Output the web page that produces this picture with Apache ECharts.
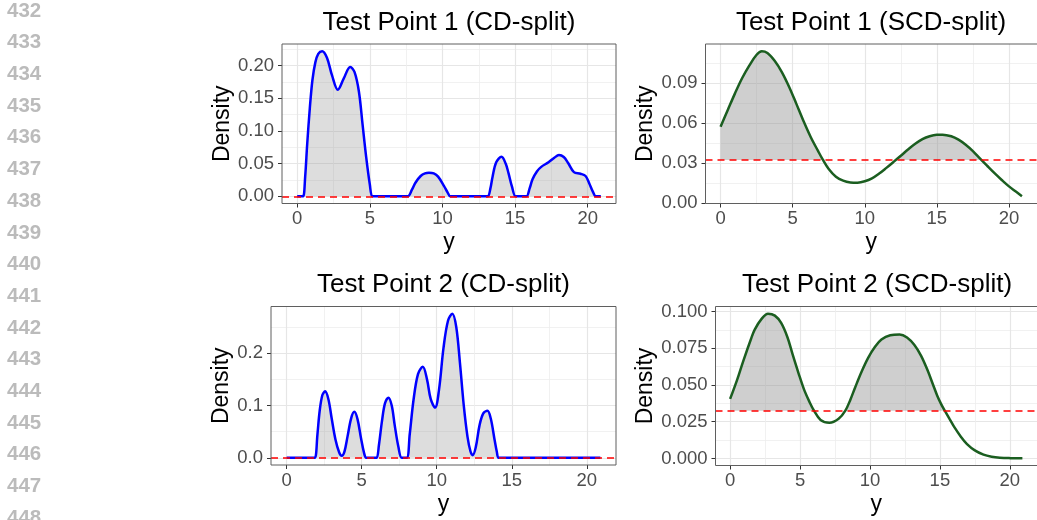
<!DOCTYPE html>
<html>
<head>
<meta charset="utf-8">
<script src="https://cdn.jsdelivr.net/npm/echarts@6/dist/echarts.min.js"></script>
<style>
html, body { margin: 0; padding: 0; background: #fff; }
#main { width: 1037px; height: 520px; }
</style>
</head>
<body>
<div id="main"></div>
<script>
var FONT = '"Liberation Sans", Arial, Helvetica, sans-serif';

// 左侧行号
var lineNumbers = [432, 433, 434, 435, 436, 437, 438, 439, 440, 441, 442, 443, 444, 445, 446, 447, 448];

var titles = ['Test Point 1 (CD-split)', 'Test Point 1 (SCD-split)', 'Test Point 2 (CD-split)', 'Test Point 2 (SCD-split)'];
var xTicks = [0, 5, 10, 15, 20];
var yTicks = [
    [0, 0.05, 0.10, 0.15, 0.20],
    [0, 0.03, 0.06, 0.09],
    [0, 0.1, 0.2],
    [0, 0.025, 0.05, 0.075, 0.1]
];
var yDigits = [2, 2, 1, 3];
var thresholds = [0, 0.0325, 0, 0.0325];

// Test Point 1, CD-split
var cd1X = [0, 0.25, 0.41, 0.55, 0.69, 0.87, 1.05, 1.25, 1.45, 1.72, 2.05, 2.4, 2.8, 3.2, 3.65, 3.95, 4.25, 4.5, 4.75, 5.0, 5.16, 5.3,
    7.45, 7.62, 7.9, 8.15, 8.5, 8.8, 9.07, 9.4, 9.7, 10.1, 10.35, 10.53, 10.7,
    12.95, 13.13, 13.3, 13.45, 13.7, 14.07, 14.35, 14.55, 14.78, 15.03, 15.2,
    15.6, 15.79, 16.0, 16.2, 16.5, 16.8, 17.3, 17.7, 18.02, 18.35, 18.65, 19.05, 19.5, 19.85, 20.1, 20.35, 20.55, 20.7, 20.9];
var cd1Y = [0, 0, 0, 0.03, 0.08, 0.135, 0.178, 0.205, 0.218, 0.222, 0.212, 0.185, 0.163, 0.18, 0.198, 0.19, 0.16, 0.11, 0.06, 0.018, 0, 0,
    0, 0, 0.01, 0.021, 0.031, 0.035, 0.036, 0.035, 0.03, 0.016, 0.006, 0, 0,
    0, 0, 0.012, 0.03, 0.052, 0.0606, 0.05, 0.035, 0.015, 0, 0,
    0, 0, 0.012, 0.026, 0.038, 0.045, 0.052, 0.059, 0.063, 0.06, 0.051, 0.037, 0.0345, 0.031, 0.02, 0.007, 0, 0, 0];

// Test Point 1, SCD-split
var scd1X = [0, 0.5, 1.0, 1.5, 2.0, 2.5, 2.86, 3.25, 3.75, 4.25, 4.75, 5.25, 5.75, 6.25, 6.75, 7.08, 7.5, 8.0, 8.5, 9.0, 9.5, 10.0,
    10.5, 11.0, 11.5, 12.0, 12.5, 13.0, 13.5, 14.0, 14.5, 15.0, 15.4, 16.0, 16.5, 17.0, 17.5, 18.0, 18.5, 19.0, 19.5, 20.0, 20.5, 20.9];
var scd1Y = [0.0574, 0.070, 0.0825, 0.094, 0.1035, 0.1115, 0.1141, 0.1128, 0.107, 0.0985, 0.0875, 0.0748, 0.0618, 0.0498, 0.0395, 0.033, 0.0258, 0.020, 0.017, 0.0157, 0.0155, 0.0165,
    0.0187, 0.0223, 0.0266, 0.0311, 0.0357, 0.0404, 0.0447, 0.0481, 0.0503, 0.0514, 0.0515, 0.0503, 0.0478, 0.044, 0.0392, 0.0335, 0.028, 0.0226, 0.0175, 0.0127, 0.0086, 0.0053];

// Test Point 2, CD-split
var cd2X = [0, 1.75, 1.89, 2.05, 2.2, 2.38, 2.56, 2.78, 3.0, 3.25, 3.5, 3.67, 3.85, 4.05, 4.3, 4.51, 4.72, 4.95, 5.15, 5.29, 5.42,
    5.87, 6.0, 6.15, 6.35, 6.55, 6.78, 7.0, 7.2, 7.45, 7.67, 8.0, 8.2, 8.45, 8.75, 9.07, 9.35, 9.6, 9.89, 10.15, 10.45, 10.75, 11.04,
    11.3, 11.55, 11.8, 12.05, 12.25, 12.4, 12.6, 12.85, 13.1, 13.38, 13.6, 13.85, 14.0, 14.11, 14.25, 20.9];
var cd2Y = [0, 0, 0, 0.045, 0.09, 0.12, 0.127, 0.112, 0.075, 0.035, 0.01, 0.004, 0.012, 0.04, 0.076, 0.088, 0.074, 0.038, 0.01, 0, 0,
    0, 0, 0.025, 0.07, 0.104, 0.115, 0.1, 0.062, 0.02, 0, 0, 0.045, 0.11, 0.16, 0.174, 0.15, 0.112, 0.096, 0.13, 0.21, 0.262, 0.2755,
    0.25, 0.18, 0.1, 0.04, 0.012, 0.005, 0.02, 0.062, 0.085, 0.09, 0.075, 0.035, 0.012, 0, 0, 0];

// Test Point 2, SCD-split
var scd2X = [0, 0.5, 0.94, 1.5, 1.76, 2.25, 2.71, 3.2, 3.65, 4.1, 4.47, 4.9, 5.29, 5.65, 6.0, 6.47, 7.1, 7.76, 8.24, 8.6, 8.94, 9.4,
    9.88, 10.35, 10.82, 11.45, 12.12, 12.65, 13.18, 13.65, 14.12, 14.5, 14.82, 15.1, 15.35, 15.7, 16.0, 16.5, 16.94, 17.5, 18.12, 18.7, 19.29, 20.0, 20.9];
var scd2Y = [0.0405, 0.0535, 0.0663, 0.0815, 0.0877, 0.095, 0.0985, 0.0972, 0.0922, 0.0825, 0.0708, 0.0578, 0.0468, 0.039, 0.0325, 0.0262, 0.0243, 0.027, 0.0325, 0.040, 0.0483, 0.059,
    0.0686, 0.0758, 0.0809, 0.0838, 0.0843, 0.0823, 0.0772, 0.070, 0.060, 0.0505, 0.0425, 0.0368, 0.0325, 0.0267, 0.0218, 0.0148, 0.0098, 0.0055, 0.0026, 0.0012, 0.0005, 0.0002, 0.0001];

var seriesX = [cd1X, scd1X, cd2X, scd2X];
var seriesY = [cd1Y, scd1Y, cd2Y, scd2Y];

// 版面 (像素)
var layout = [
    { left: 282, top: 44, width: 334, height: 159.5, titleX: 449, titleTop: 10, nameGap: 48 },
    { left: 705.5, top: 44, width: 333, height: 159.5, titleX: 871, titleTop: 10, nameGap: 48 },
    { left: 271, top: 306.5, width: 345, height: 158.5, titleX: 443.5, titleTop: 271.5, nameGap: 36 },
    { left: 715.5, top: 306.5, width: 326, height: 159, titleX: 877, titleTop: 271.5, nameGap: 58 }
];

var chart = echarts.init(document.getElementById('main'));

function zip(xs, ys) {
    return xs.map(function (x, i) { return [x, ys[i]]; });
}
function onTick(list, v) {
    return list.some(function (t) { return Math.abs(t - v) < 1e-9; });
}
// ggplot 默认 5% 扩展
function expand(lo, hi) {
    var d = (hi - lo) * 0.05;
    return [lo - d, hi + d];
}

var FILL = 'rgba(150,150,150,0.46)';
var gridLine = { lineStyle: { color: '#e6e6e6', width: 1.2 } };
var minorLine = { lineStyle: { color: '#eeeeee', width: 0.8 } };

var option = {
    animation: false,
    backgroundColor: '#fff',
    title: [], grid: [], xAxis: [], yAxis: [], series: [], graphic: []
};

layout.forEach(function (g, i) {
    var xs = seriesX[i], ys = seriesY[i], thr = thresholds[i];
    var xr = expand(Math.min.apply(null, xs), Math.max.apply(null, xs));
    var yr = expand(Math.min.apply(null, ys.concat([thr])), Math.max.apply(null, ys.concat([thr])));
    var yInt = yTicks[i][1] - yTicks[i][0];
    var isCD = (i % 2 === 0);

    option.grid.push({ left: g.left, top: g.top, width: g.width, height: g.height, show: false });

    option.title.push({
        text: titles[i], left: g.titleX, top: g.titleTop, textAlign: 'center', padding: 0,
        textStyle: { fontFamily: FONT, fontSize: 26, fontWeight: 'normal', color: '#000' }
    });

    option.xAxis.push({
        type: 'value', gridIndex: i, min: xr[0], max: xr[1], minInterval: 5, maxInterval: 5,
        name: 'y', nameLocation: 'middle', nameGap: 28,
        nameTextStyle: { fontFamily: FONT, fontSize: 23, color: '#000' },
        axisLine: { show: false, onZero: false },
        axisTick: { show: true, length: 4, customValues: xTicks, lineStyle: { color: '#333', width: 1 } },
        axisLabel: {
            customValues: xTicks, margin: 6, fontFamily: FONT, fontSize: 18.5, color: '#4d4d4d',
            formatter: function (v) { return onTick(xTicks, v) ? String(v) : ''; }
        },
        splitLine: gridLine,
        minorTick: { show: false, splitNumber: 2 },
        minorSplitLine: Object.assign({ show: true }, minorLine)
    });

    option.yAxis.push({
        type: 'value', gridIndex: i, min: yr[0], max: yr[1], minInterval: yInt, maxInterval: yInt,
        name: 'Density', nameLocation: 'middle', nameGap: g.nameGap,
        nameTextStyle: { fontFamily: FONT, fontSize: 23, color: '#000' },
        axisLine: { show: false, onZero: false },
        axisTick: { show: true, length: 4, customValues: yTicks[i], lineStyle: { color: '#333', width: 1 } },
        axisLabel: {
            customValues: yTicks[i], margin: 8, fontFamily: FONT, fontSize: 18.5, color: '#4d4d4d',
            formatter: function (v) { return onTick(yTicks[i], v) ? v.toFixed(yDigits[i]) : ''; }
        },
        splitLine: gridLine,
        minorTick: { show: false, splitNumber: 2 },
        minorSplitLine: Object.assign({ show: true }, minorLine)
    });

    var thrLine = {
        silent: true, precision: 5, symbol: ['none', 'none'], label: { show: false },
        lineStyle: { color: '#ff0000', type: [7, 5], width: 1.5 },
        emphasis: { disabled: true },
        data: [{ yAxis: thr }]
    };

    if (isCD) {
        option.series.push({
            type: 'line', xAxisIndex: i, yAxisIndex: i, data: zip(xs, ys),
            smooth: 0.35, symbol: 'none', silent: true,
            lineStyle: { color: '#0000ff', width: 2.5 },
            areaStyle: { color: FILL },
            markLine: thrLine, z: 2
        });
    } else {
        // 阈值以上的阴影
        option.series.push({
            type: 'line', xAxisIndex: i, yAxisIndex: i,
            data: zip(xs, ys.map(function (v) { return Math.max(v, thr); })),
            smooth: 0.35, symbol: 'none', silent: true,
            lineStyle: { width: 0, opacity: 0 }, areaStyle: { color: FILL, opacity: 1, origin: thr }, z: 1
        });
        option.series.push({
            type: 'line', xAxisIndex: i, yAxisIndex: i, data: zip(xs, ys),
            smooth: 0.35, symbol: 'none', silent: true,
            lineStyle: { color: '#1b5e20', width: 2.5 },
            markLine: thrLine, z: 2
        });
    }

    // 面板边框
    option.graphic.push({
        type: 'rect', z: 100, silent: true,
        shape: { x: g.left, y: g.top, width: g.width, height: g.height },
        style: { fill: 'none', stroke: '#5f5f5f', lineWidth: 1 }
    });
});

lineNumbers.forEach(function (n, k) {
    option.graphic.push({
        type: 'text', z: 100, silent: true, x: 7, y: 11 + k * 31.7,
        style: { text: String(n), fill: '#bbbbbb', font: 'bold 20.5px ' + FONT, verticalAlign: 'middle', align: 'left' }
    });
});

chart.setOption(option);
</script>
</body>
</html>
